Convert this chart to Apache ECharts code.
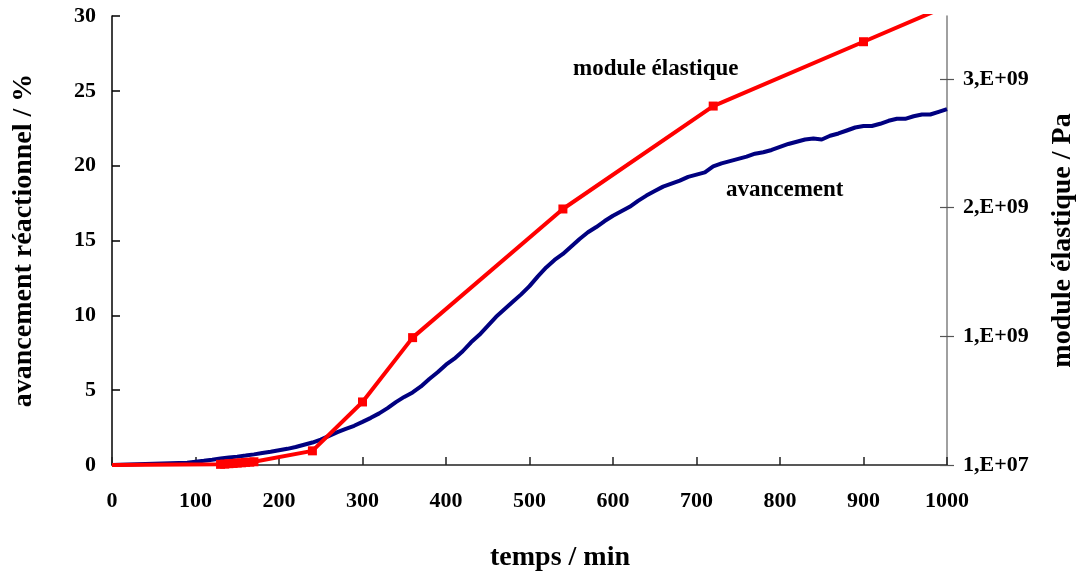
<!DOCTYPE html>
<html>
<head>
<meta charset="utf-8">
<script src="https://cdn.jsdelivr.net/npm/echarts@6/dist/echarts.min.js"></script>
<style>html,body{margin:0;padding:0;background:#fff}#c{width:1080px;height:576px}</style>
</head>
<body>
<div id="c"></div>
<script>
// avancement réactionnel (%) vs temps (min)
const timeBlue = [0, 90, 100, 110, 120, 130, 140, 150, 160, 170, 180, 190, 200, 210, 220, 230, 240, 250, 260, 270, 280, 290, 300, 310, 320, 330, 340, 350, 360, 370, 380, 390, 400, 410, 420, 430, 440, 450, 460, 470, 480, 490, 500, 510, 520, 530, 540, 550, 560, 570, 580, 590, 600, 610, 620, 630, 640, 650, 660, 670, 680, 690, 700, 710, 720, 730, 740, 750, 760, 770, 780, 790, 800, 810, 820, 830, 840, 850, 860, 870, 880, 890, 900, 910, 920, 930, 940, 950, 960, 970, 980, 990, 1000];
const avancement = [0, 0.15, 0.22, 0.28, 0.35, 0.43, 0.5, 0.56, 0.63, 0.71, 0.8, 0.88, 0.98, 1.08, 1.2, 1.35, 1.5, 1.7, 1.95, 2.2, 2.42, 2.62, 2.88, 3.15, 3.45, 3.8, 4.2, 4.55, 4.85, 5.25, 5.75, 6.2, 6.7, 7.1, 7.6, 8.2, 8.7, 9.3, 9.9, 10.4, 10.9, 11.4, 11.95, 12.6, 13.2, 13.7, 14.1, 14.6, 15.1, 15.55, 15.9, 16.3, 16.65, 16.95, 17.25, 17.65, 18.0, 18.3, 18.6, 18.8, 19.0, 19.25, 19.4, 19.55, 19.95, 20.15, 20.3, 20.45, 20.6, 20.8, 20.9, 21.05, 21.25, 21.45, 21.6, 21.75, 21.82, 21.75, 22.0, 22.15, 22.35, 22.55, 22.65, 22.65, 22.8, 23.0, 23.13, 23.13, 23.3, 23.42, 23.42, 23.6, 23.78];

// module élastique (Pa) vs temps (min)
const timeRed = [0, 130, 135, 140, 145, 150, 155, 160, 165, 170, 240, 300, 360, 540, 720, 900, 1080];
const moduleElastique = [1e7, 1.5e7, 1.7e7, 2e7, 2.2e7, 2.5e7, 2.7e7, 3e7, 3.2e7, 3.5e7, 1.2e8, 5.0e8, 1.0e9, 2.0e9, 2.8e9, 3.3e9, 3.8e9];

// axis ticks
const xTicks = [0, 100, 200, 300, 400, 500, 600, 700, 800, 900, 1000];
const leftTicks = [0, 5, 10, 15, 20, 25, 30];
const rightTicks = [1e7, 1.01e9, 2.01e9, 3.01e9];
const rightMin = 1e7, rightMax = 3.5e9;

const FONT = "'Liberation Serif', 'Times New Roman', serif";
const fmtE = v => {
  const e = Math.floor(Math.log10(v) + 1e-9);
  const m = Math.round(v / Math.pow(10, e));
  return m + ',E+' + String(e).padStart(2, '0');
};

const chart = echarts.init(document.getElementById('c'), null, {renderer: 'canvas'});
const lblStyle = {color: '#000', fontFamily: FONT, fontWeight: 'bold', fontSize: 22};
const titleStyle = {color: '#000', fontFamily: FONT, fontWeight: 'bold', fontSize: 28};
const gridRect = {left: 112, right: 133, top: 16, bottom: 111, containLabel: false, outerBoundsMode: 'none'};
chart.setOption({
  animation: false,
  backgroundColor: '#fff',
  grid: [Object.assign({}, gridRect), Object.assign({}, gridRect)],
  xAxis: [{
    type: 'value', gridIndex: 0, min: xTicks[0], max: xTicks[xTicks.length - 1], interval: 100,
    name: 'temps / min', nameLocation: 'middle', nameGap: 79,
    nameTextStyle: Object.assign({padding: [0, 0, 0, 61]}, titleStyle),
    axisLine: {onZero: false, lineStyle: {color: '#222', width: 1.5}},
    axisTick: {inside: true, length: 8, lineStyle: {color: '#222', width: 1.5}},
    axisLabel: Object.assign({margin: 25, customValues: xTicks, formatter: v => String(v)}, lblStyle),
    splitLine: {show: false}
  }, {
    type: 'value', gridIndex: 1, min: xTicks[0], max: xTicks[xTicks.length - 1], show: false
  }],
  yAxis: [{
    type: 'value', gridIndex: 0, position: 'left', min: 0, max: 30, interval: 5,
    name: 'avancement réactionnel / %', nameLocation: 'middle', nameGap: 74, nameRotate: 90,
    nameTextStyle: titleStyle,
    axisLine: {show: true, onZero: false, lineStyle: {color: '#000', width: 1.5}},
    axisTick: {show: true, inside: true, length: 8, lineStyle: {color: '#000', width: 1.5}},
    axisLabel: Object.assign({margin: 16, customValues: leftTicks}, lblStyle),
    splitLine: {show: false}
  }, {
    type: 'value', gridIndex: 0, position: 'right', min: rightMin, max: rightMax, interval: 1e9,
    name: 'module élastique / Pa', nameLocation: 'middle', nameGap: 102, nameRotate: 90,
    nameTextStyle: titleStyle,
    axisLine: {show: true, onZero: false, lineStyle: {color: '#808080', width: 1.5}},
    axisTick: {show: true, inside: false, length: 7, customValues: rightTicks, lineStyle: {color: '#555', width: 1.2}},
    axisLabel: Object.assign({margin: 16, customValues: rightTicks, formatter: fmtE}, lblStyle),
    splitLine: {show: false}
  }, {
    type: 'value', gridIndex: 1, position: 'right', min: rightMin, max: rightMax, interval: 1e9,
    axisLine: {show: false, onZero: false},
    axisTick: {show: true, inside: true, length: 7, customValues: rightTicks, lineStyle: {color: '#555', width: 1.2}},
    axisLabel: {show: false},
    splitLine: {show: false}
  }],
  series: [{
    name: 'avancement', type: 'line', xAxisIndex: 0, yAxisIndex: 0,
    data: timeBlue.map((t, i) => [t, avancement[i]]),
    showSymbol: false, symbol: 'none',
    lineStyle: {color: '#000080', width: 4},
    clip: true, z: 2
  }, {
    name: 'module élastique', type: 'line', xAxisIndex: 0, yAxisIndex: 1,
    data: timeRed.map((t, i) => [t, moduleElastique[i]]),
    symbol: (v, p) => p.dataIndex === 0 ? 'none' : 'rect',
    symbolSize: 9,
    itemStyle: {color: '#ff0000'},
    lineStyle: {color: '#ff0000', width: 4},
    clip: true, z: 3
  }],
  graphic: [
    {type: 'text', left: 573, top: 58, style: {text: 'module élastique', fill: '#000', font: 'bold 23px ' + FONT}},
    {type: 'text', left: 726, top: 179, style: {text: 'avancement', fill: '#000', font: 'bold 23px ' + FONT}}
  ]
});
</script>
</body>
</html>
